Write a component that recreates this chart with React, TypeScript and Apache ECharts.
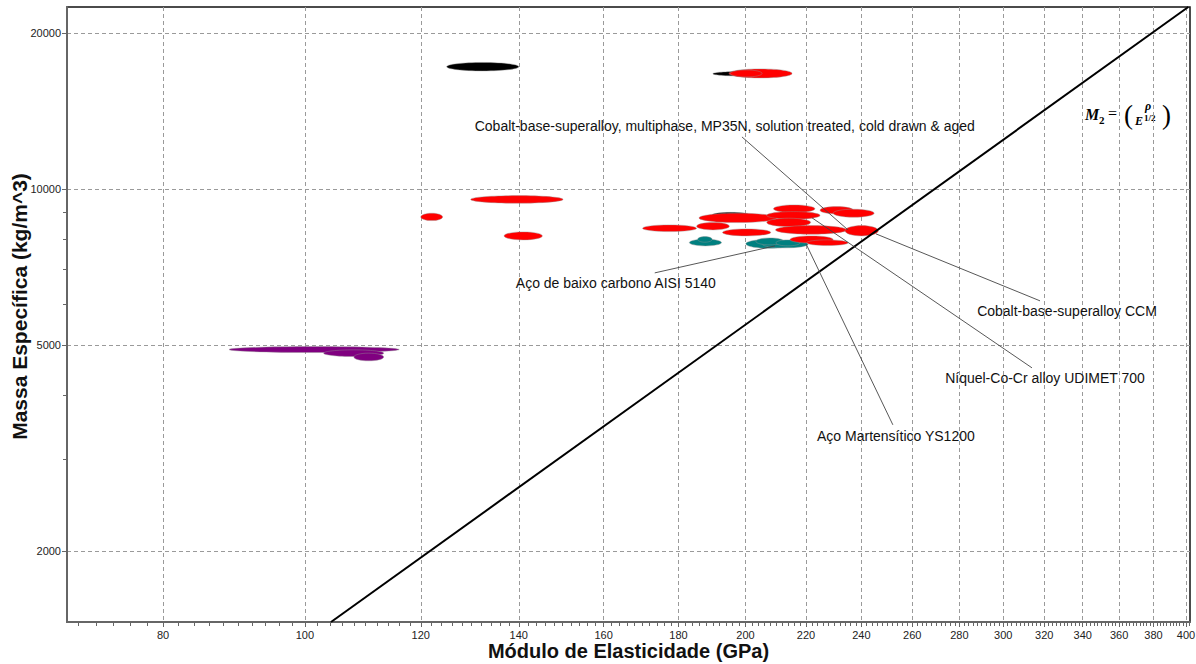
import React, { useEffect, useRef } from 'react';
import * as echarts from 'echarts';

// ---- axes ----
const X_MIN = 68.78;
const X_MAX = 402.5;
const Y_MIN = 1458;
const Y_MAX = 22450;
const xMajorTicks = [80, 100, 120, 140, 160, 180, 200, 220, 240, 260, 280, 300, 320, 340, 360, 380, 400];
const xMinorTicks: number[] = [];
for (let v = 70; v <= 402; v += 2) xMinorTicks.push(v);
const yMajorTicks = [2000, 5000, 10000, 20000];
const yMinorTicks = [3000, 4000, 6000, 7000, 8000, 9000];

// ---- bubbles: [E min, E max, rho min, rho max] ----
const blackBubbles = [
  [125.0, 140.0, 16896, 17546],
  [190.0, 207.8, 16520, 16860],
  [189.7, 201.4, 8780, 9010],
];
const purpleBubbles = [
  [88.75, 116.0, 4831, 4962],
  [103.0, 113.2, 4746, 4889],
  [108.0, 113.2, 4656, 4818],
];
const tealBubbles = [
  [183.1, 192.6, 7762, 7997],
  [185.5, 189.8, 7890, 8090],
  [200.1, 215.2, 7677, 7990],
  [205.3, 220.7, 7694, 7954],
  [203.3, 212.5, 7797, 8043],
  [209.8, 217.9, 7762, 7972],
];
const redBubbles = [
  [194.9, 215.2, 16380, 17050],
  [195.3, 205.3, 16450, 16970],
  [120.0, 124.2, 8686, 8976],
  [129.8, 150.1, 9384, 9707],
  [136.8, 145.3, 7972, 8260],
  [170.1, 185.2, 8271, 8521],
  [185.9, 210.1, 8609, 8976],
  [185.2, 195.0, 8334, 8609],
  [192.9, 208.1, 8115, 8371],
  [209.0, 223.1, 9000, 9314],
  [206.8, 224.9, 8740, 9040],
  [206.8, 221.6, 8457, 8779],
  [209.7, 234.5, 8176, 8495],
  [224.9, 237.0, 8948, 9243],
  [229.6, 244.9, 8818, 9137],
  [233.9, 246.5, 8115, 8495],
  [214.5, 229.6, 7856, 8115],
  [220.2, 235.1, 7773, 7972],
];

// ---- guide line M2 ----
const guideLine = [
  [104.2, 1458],
  [401.4, 22450],
];

// ---- annotations ----
const annotationTexts = [
  'Cobalt-base-superalloy, multiphase, MP35N, solution treated, cold drawn & aged',
  'Cobalt-base-superalloy CCM',
  'Níquel-Co-Cr alloy UDIMET 700',
  'Aço Martensítico YS1200',
  'Aço de baixo carbono AISI 5140',
];
// [text E, text rho, line-start E, line-start rho, line-end E, line-end rho]
const annotationPoints = [
  [193.6, 13231, 198.9, 12600, 235.0, 8334],
  [331.7, 5815, 317.9, 6079, 245.6, 8187],
  [320.4, 4317, 313.9, 4513, 222.1, 8791],
  [253.4, 3336, 252.2, 3503, 220.0, 7832],
  [163.1, 6585, 173.4, 6884, 209.5, 7762],
];

const SANS = '"Liberation Sans", Arial, sans-serif';
const SERIF = '"Liberation Serif", "Times New Roman", serif';

function bubbleSeries(data: number[][], color: string, z: number) {
  return {
    type: 'custom',
    xAxisIndex: 0,
    yAxisIndex: 0,
    z,
    clip: true,
    encode: { x: [0, 1], y: [2, 3] },
    data,
    renderItem: (params: any, api: any) => {
      const p1 = api.coord([api.value(0), api.value(2)]);
      const p2 = api.coord([api.value(1), api.value(3)]);
      return {
        type: 'ellipse',
        shape: {
          cx: (p1[0] + p2[0]) / 2,
          cy: (p1[1] + p2[1]) / 2,
          rx: Math.abs(p2[0] - p1[0]) / 2,
          ry: Math.abs(p2[1] - p1[1]) / 2,
        },
        style: { fill: color, stroke: 'rgba(150,150,150,0.6)', lineWidth: 0.7 },
      };
    },
  };
}

export default function App() {
  const ref = useRef<HTMLDivElement>(null);
  useEffect(() => {
    if (!ref.current) return;
    const chart = echarts.init(ref.current, null, { renderer: 'svg' });
    const tickColor = '#666';
    const gridLine = { show: true, lineStyle: { type: [4, 3], color: '#9a9a9a', width: 1 } };
    const option: any = {
      animation: false,
      backgroundColor: '#ffffff',
      grid: {
        left: 67,
        right: 6,
        top: 7,
        bottom: 42,
        show: true,
        borderColor: '#111',
        borderWidth: 1.5,
        backgroundColor: 'transparent',
        containLabel: false,
        outerBoundsMode: 'none',
      },
      xAxis: [
        {
          type: 'log',
          logBase: 10,
          min: X_MIN,
          max: X_MAX,
          position: 'bottom',
          axisLine: { show: true, lineStyle: { color: tickColor, width: 2 } },
          axisTick: { show: true, customValues: xMajorTicks, length: 5, lineStyle: { color: tickColor } },
          axisLabel: {
            customValues: xMajorTicks,
            formatter: (v: number) => String(Math.round(v)),
            fontSize: 11,
            color: '#222',
            fontFamily: SANS,
            margin: 7,
          },
          splitLine: gridLine,
          minorTick: { show: false },
          minorSplitLine: { show: false },
          name: 'Módulo de Elasticidade (GPa)',
          nameLocation: 'middle',
          nameGap: 19,
          nameMoveOverlap: false,
          nameTextStyle: { fontSize: 20, lineHeight: 20, fontWeight: 'bold', color: '#111', fontFamily: SANS },
        },
        {
          type: 'log',
          logBase: 10,
          min: X_MIN,
          max: X_MAX,
          position: 'bottom',
          axisLine: { show: false },
          axisTick: { show: true, customValues: xMinorTicks, length: 4, lineStyle: { color: tickColor } },
          axisLabel: { show: false },
          splitLine: { show: false },
        },
      ],
      yAxis: [
        {
          type: 'log',
          logBase: 10,
          min: Y_MIN,
          max: Y_MAX,
          position: 'left',
          axisLine: { show: true, lineStyle: { color: tickColor, width: 2 } },
          axisTick: { show: true, customValues: yMajorTicks, length: 5, lineStyle: { color: tickColor } },
          axisLabel: {
            customValues: yMajorTicks,
            formatter: (v: number) => String(Math.round(v)),
            fontSize: 11,
            color: '#222',
            fontFamily: SANS,
            margin: 6,
          },
          splitLine: gridLine,
          minorTick: { show: false },
          minorSplitLine: { show: false },
          name: 'Massa Específica (kg/m^3)',
          nameLocation: 'middle',
          nameGap: 37,
          nameMoveOverlap: false,
          nameTextStyle: {
            fontSize: 21,
            lineHeight: 21,
            fontWeight: 'bold',
            color: '#111',
            fontFamily: SANS,
            padding: [0, 0, 0, 16],
          },
        },
        {
          type: 'log',
          logBase: 10,
          min: Y_MIN,
          max: Y_MAX,
          position: 'left',
          axisLine: { show: false },
          axisTick: { show: true, customValues: yMinorTicks, length: 4, lineStyle: { color: tickColor } },
          axisLabel: { show: false },
          splitLine: { show: false },
        },
      ],
      series: [
        bubbleSeries(blackBubbles, '#000000', 2),
        bubbleSeries(purpleBubbles, '#800080', 3),
        bubbleSeries(tealBubbles, '#008080', 4),
        bubbleSeries(redBubbles, '#ff0000', 5),
        {
          type: 'line',
          xAxisIndex: 0,
          yAxisIndex: 0,
          z: 6,
          data: guideLine,
          symbol: 'none',
          clip: true,
          lineStyle: { color: '#000', width: 2 },
        },
        {
          type: 'custom',
          xAxisIndex: 0,
          yAxisIndex: 0,
          z: 7,
          clip: false,
          encode: { x: [0, 2, 4], y: [1, 3, 5] },
          data: annotationPoints,
          renderItem: (params: any, api: any) => {
            const t = api.coord([api.value(0), api.value(1)]);
            const s = api.coord([api.value(2), api.value(3)]);
            const e = api.coord([api.value(4), api.value(5)]);
            return {
              type: 'group',
              children: [
                {
                  type: 'line',
                  shape: { x1: s[0], y1: s[1], x2: e[0], y2: e[1] },
                  style: { stroke: '#444', lineWidth: 0.9 },
                },
                {
                  type: 'text',
                  x: t[0],
                  y: t[1],
                  style: {
                    text: annotationTexts[params.dataIndex],
                    fill: '#111',
                    font: '14px ' + SANS,
                    align: 'center',
                    verticalAlign: 'middle',
                  },
                },
              ],
            };
          },
        },
      ],
      graphic: [
        { type: 'text', x: 1085, y: 122, style: { text: 'M', font: 'italic bold 16px ' + SERIF, fill: '#000', verticalAlign: 'bottom' } },
        { type: 'text', x: 1099, y: 125, style: { text: '2', font: 'bold 11px ' + SERIF, fill: '#000', verticalAlign: 'bottom' } },
        { type: 'text', x: 1108, y: 121, style: { text: '=', font: '16px ' + SERIF, fill: '#000', verticalAlign: 'bottom' } },
        { type: 'text', x: 1124, y: 115, style: { text: '(', font: '27px ' + SERIF, fill: '#000', verticalAlign: 'middle' } },
        { type: 'text', x: 1148, y: 112, style: { text: 'ρ', font: 'italic bold 12px ' + SERIF, fill: '#000', align: 'center', verticalAlign: 'bottom' } },
        { type: 'text', x: 1135, y: 127, style: { text: 'E', font: 'italic bold 12px ' + SERIF, fill: '#000', verticalAlign: 'bottom' } },
        { type: 'text', x: 1144, y: 122, style: { text: '1/2', font: 'bold 9px ' + SERIF, fill: '#000', verticalAlign: 'bottom' } },
        { type: 'text', x: 1162, y: 115, style: { text: ')', font: '27px ' + SERIF, fill: '#000', verticalAlign: 'middle' } },
      ],
    };
    chart.setOption(option);
    return () => chart.dispose();
  }, []);
  return (
    <div
      ref={ref}
      style={{ position: 'fixed', left: 0, top: 0, width: 1196, height: 664, background: '#fff' }}
    />
  );
}
